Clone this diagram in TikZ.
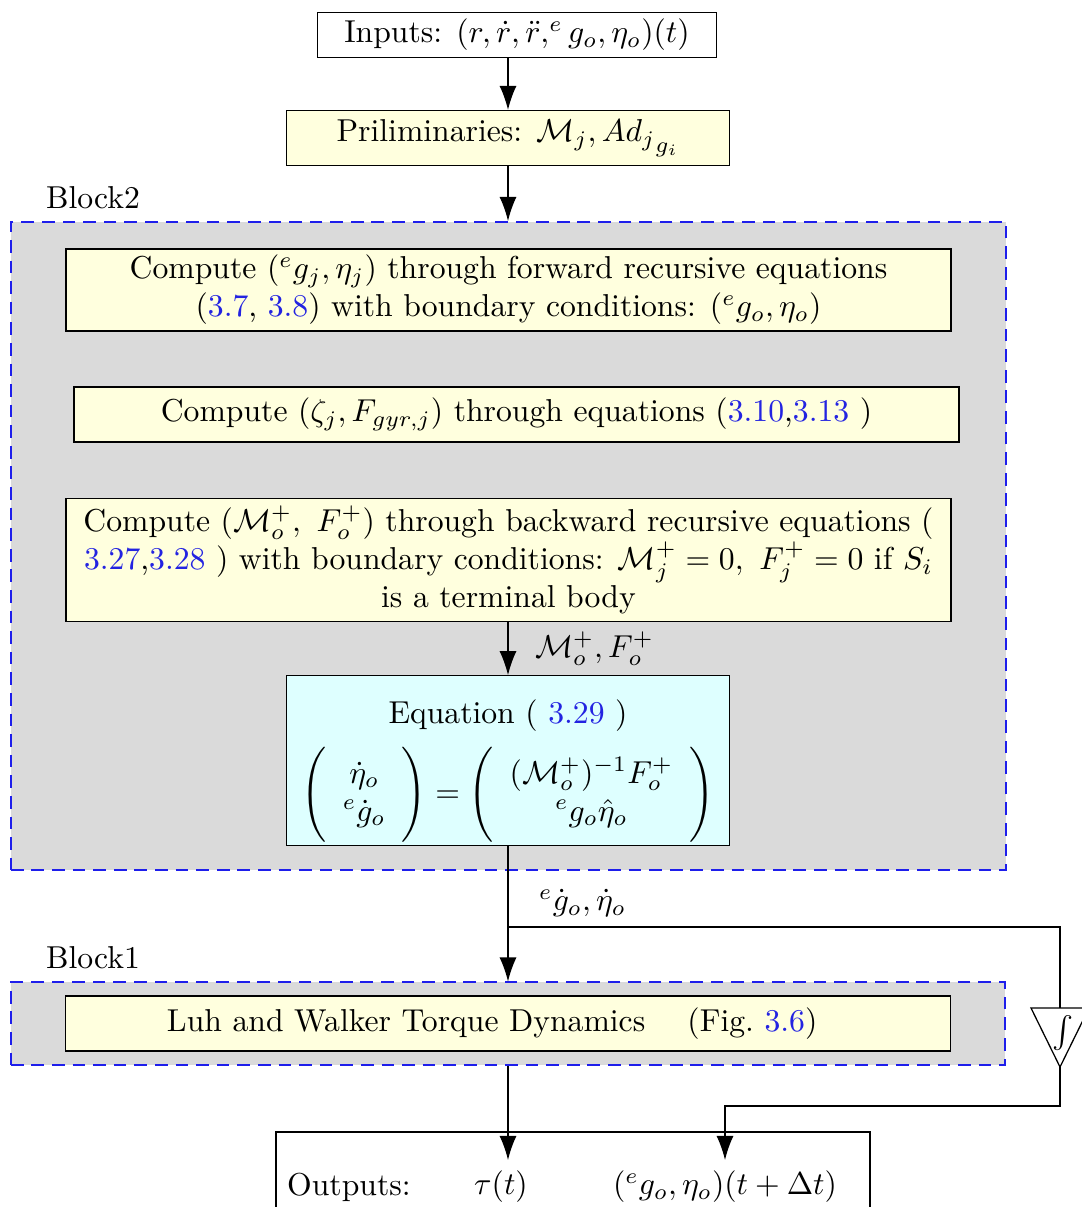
\documentclass[tikz,border=0pt]{standalone}
\usepackage{amsmath}
\usetikzlibrary{arrows.meta}
\definecolor{refblue}{RGB}{35,35,225}
\definecolor{boxyellow}{RGB}{255,255,222}
\definecolor{boxcyan}{RGB}{222,255,255}
\definecolor{blockgray}{RGB}{218,218,218}
\definecolor{dashblue}{RGB}{30,30,235}
\newcommand{\refnum}[1]{\textcolor{refblue}{#1}}
\begin{document}
\begin{tikzpicture}[x=0.0111cm,y=-0.0111cm,>={Latex[length=7.6pt,width=5.4pt]},
    plainbox/.style={draw,fill=white,align=center,inner ysep=1.5pt},
    stepbox/.style={draw,fill=boxyellow,align=center,minimum width=9.82cm,inner ysep=1.5pt},
    blockarea/.style={draw=dashblue,fill=blockgray,line width=0.6pt,dash pattern=on 4pt off 2.5pt}]
  \clip (0,0) rectangle (1082,1207);
  \fill[white] (0,0) rectangle (1082,1207);
  % inputs and preliminaries
  \node[plainbox,minimum width=4.42cm,minimum height=0.50cm] (inputs) at (517,35)
    {Inputs: $(r,\dot{r},\ddot{r},^{e}g_o,\eta_o)(t)$};
  \node[stepbox,minimum width=4.92cm,minimum height=0.61cm] (prelim) at (508,138)
    {Priliminaries: $\mathcal{M}_j, {Ad_j}_{g_i}$};
  % Block2
  \node[blockarea,minimum width=11.04cm,minimum height=7.19cm] (block2) at (508.5,546) {};
  \node (lblocktwo) at (93,198) {Block2};
  \node[stepbox,minimum height=0.91cm] (fwd) at (508.5,290)
    {Compute $({}^e g_j,\eta_j)$ through forward recursive equations\\
     (\refnum{3.7}, \refnum{3.8}) with boundary conditions: $({}^e g_o,\eta_o)$};
  \node[stepbox,minimum height=0.61cm] (gyr) at (516.5,414.5)
    {Compute $(\zeta_j,F_{gyr,j})$ through equations (\refnum{3.10},\refnum{3.13} )};
  \node[stepbox,minimum height=1.37cm] (bwd) at (508.5,560)
    {Compute $(\mathcal{M}_o^+,\ F_o^+)$ through backward recursive equations (\\
     \refnum{3.27},\refnum{3.28} ) with boundary conditions: $\mathcal{M}_j^+=0,\ F_j^+=0$ if $S_i$\\
     is a terminal body};
  \node[draw,fill=boxcyan,align=center,minimum width=4.92cm,minimum height=1.83cm,inner ysep=1pt] (eqn) at (508,760.5)
    {\rule{0pt}{14pt}Equation ( \refnum{3.29} )\\[4pt]
     $\Biggl(\begin{array}{c}\dot\eta_o\\ {}^e\dot g_o\end{array}\Biggr)=
      \Biggl(\begin{array}{c}(\mathcal{M}_o^+)^{-1}F_o^+\\ {}^e g_o\hat\eta_o\end{array}\Biggr)$};
  % Block1
  \node[blockarea,minimum width=11.03cm,minimum height=0.92cm] (block1) at (508,1023.9) {};
  \node (lblockone) at (93,958) {Block1};
  \node[stepbox,minimum height=0.61cm] (luh) at (508,1023.5)
    {Luh and Walker Torque Dynamics \quad (Fig.~\refnum{3.6})\hspace*{10pt}};
  % integrator
  \coordinate (itop) at (1060,1008);
  \coordinate (iapex) at (1060,1067);
  \draw (1031,1008) -- (1089,1008) -- (iapex) -- cycle;
  \node (integ) at (1063,1033) {$\int$};
  % outputs
  \node[plainbox,minimum width=6.59cm,minimum height=1.22cm] (outbox) at (573,1187) {};
  \node[anchor=west] (outlbl) at (276,1187) {Outputs:};
  \node (tau) at (501,1187) {$\tau(t)$};
  \node (dt) at (725,1187) {$({}^e g_o,\eta_o)(t+\Delta t)$};
  % connectors
  \draw[->] (prelim.north |- inputs.south) -- (prelim.north);
  \draw[->] (prelim.south) -- (prelim.south |- block2.north);
  \draw[->] (eqn.north |- bwd.south) -- node[right=5pt] {$\mathcal{M}_o^+,F_o^+$} (eqn.north);
  \coordinate (split) at (508,927);
  \draw[->] (eqn.south) -- (eqn.south |- block1.north);
  \node[anchor=west] (lbldot) at (528,903) {${}^e\dot g_o,\dot\eta_o$};
  \draw (split) -| (itop);
  \draw[->] (iapex) -- ++(0,39) -| (dt.north);
  \draw[->] (block1.south) -- (block1.south |- tau.north);
\end{tikzpicture}
\end{document}
